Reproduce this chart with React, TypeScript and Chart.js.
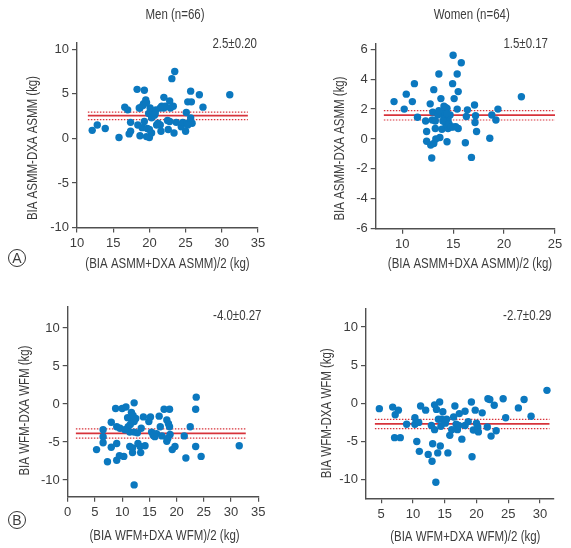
import React, { useEffect, useRef } from 'react';
import { Chart, registerables } from 'chart.js';

Chart.register(...registerables);

// ---------------- data ----------------
const menAsmm: [number, number][] = [
  [12.1, 0.9], [12.8, 1.5], [13.9, 1.1], [15.8, 0.1], [16.6, 3.5], [17.0, 3.2], [17.2, 0.5], [17.4, 0.8],
  [17.4, 1.8], [18.3, 5.5], [18.4, 1.5], [18.7, 0.3], [18.7, 3.4], [19.0, 1.2], [19.1, 3.7], [19.3, 5.4],
  [19.5, 4.3], [19.6, 0.2], [19.2, 3.9], [19.7, 1.1], [19.9, 2.8], [20.0, 0.1], [20.1, 3.4], [20.3, 0.6],
  [20.3, 2.3], [20.5, 3.0], [20.7, 2.6], [20.9, 3.2], [21.0, 1.5], [21.2, 1.7], [21.5, 1.5], [21.6, 0.8],
  [21.7, 3.6], [22.0, 4.6], [22.0, 3.4], [22.2, 3.6], [22.5, 2.0], [22.6, 1.0], [22.8, 4.2], [22.9, 3.4],
  [23.1, 6.7], [23.5, 7.5], [23.3, 3.6], [23.4, 0.6], [23.7, 1.8], [24.4, 1.3], [24.6, 1.8], [25.0, 0.8],
  [25.1, 2.9], [25.2, 1.7], [25.3, 4.1], [25.7, 2.3], [25.7, 5.3], [25.8, 4.1], [25.9, 1.7], [26.9, 4.9],
  [27.4, 3.5], [31.1, 4.9], [19.6, 4.0], [20.0, 1.0], [19.3, 1.9], [20.8, 2.8], [22.8, 1.9], [25.3, 1.5],
  [18.6, 3.4], [21.5, 3.4],
];

const womenAsmm: [number, number][] = [
  [9.2, 2.5], [10.2, 2.0], [10.4, 3.0], [11.0, 2.5], [11.2, 3.7], [11.5, 1.45], [12.3, 1.2], [12.4, 0.5],
  [12.4, -0.15], [12.75, 2.35], [12.8, -0.4], [12.9, -1.27], [13.1, 3.3], [13.0, 1.8], [12.95, 1.27], [13.1, -0.3],
  [13.25, 0.7], [13.25, 1.2], [13.6, 4.35], [13.7, 0.1], [13.8, 2.7], [13.9, 1.75], [13.9, 0.65], [14.1, 1.5],
  [14.1, 2.2], [14.3, 0.95], [14.4, -0.18], [14.4, 2.05], [14.5, 1.5], [14.5, 1.27], [14.5, 0.7], [14.7, 1.6],
  [14.95, 3.7], [15.0, 5.6], [15.1, 2.7], [15.25, 0.83], [15.4, 4.35], [15.4, 2.0], [15.5, 3.17], [15.5, 0.7],
  [15.8, 5.1], [16.2, -0.25], [16.3, 1.5], [16.4, 1.95], [16.8, -1.23], [17.1, 2.27], [17.15, 1.1], [17.2, 1.55],
  [17.3, 0.5], [18.6, 0.05], [18.8, 1.6], [19.2, 1.27], [19.4, 2.0], [21.7, 2.83], [13.5, 1.6], [14.0, 1.2],
  [14.2, 1.8], [14.6, 1.0], [14.8, 0.8], [13.6, 1.9], [14.3, 2.1], [15.0, 0.8], [13.3, 0.0], [14.4, 1.7],
];

const menWfm: [number, number][] = [
  [5.3, -6.0], [6.5, -3.4], [6.5, -4.3], [6.5, -5.1], [7.3, -7.6], [8.0, -2.4], [8.0, -5.7], [8.8, -0.6],
  [9.0, -5.2], [9.0, -7.4], [9.0, -3.0], [9.6, -3.2], [9.5, -6.8], [10.0, -0.6], [10.3, -6.9], [10.7, -0.4],
  [11.0, -1.8], [11.1, -3.0], [11.4, -3.7], [11.4, -5.6], [11.6, -1.9], [11.7, -1.1], [11.9, -5.8], [11.9, -6.4],
  [12.2, -2.3], [12.2, 0.15], [12.2, -10.65], [12.2, -3.7], [12.5, -1.9], [12.9, -5.2], [13.3, -5.6], [13.5, -3.2],
  [13.4, -6.4], [13.9, -1.7], [14.2, -5.5], [14.9, -2.3], [15.2, -1.7], [15.4, -3.7], [15.7, -4.1], [16.3, -3.9],
  [16.8, -1.6], [17.0, -3.0], [17.3, -4.2], [17.7, -0.7], [18.2, -2.1], [18.2, -4.9], [18.5, -2.6], [18.7, -0.7],
  [18.7, -3.0], [18.8, -4.0], [19.2, -6.0], [19.7, -5.6], [21.4, -4.2], [21.7, -7.1], [22.5, -3.0], [23.5, -0.7],
  [23.6, 0.9], [23.5, -5.6], [24.5, -6.9], [31.5, -5.5], [10.5, -3.4], [12.0, -1.5], [12.8, -3.8], [11.5, -2.7],
  [18.4, -4.5], [16.0, -4.3],
];

const womenWfm: [number, number][] = [
  [4.7, -0.7], [6.8, -0.5], [7.2, -1.5], [7.1, -4.5], [7.7, -0.9], [8.0, -4.5], [9.0, -2.75], [10.3, -1.9],
  [10.3, -2.75], [10.6, -5.0], [10.9, -2.5], [11.0, -6.3], [11.2, -0.35], [12.0, -0.9], [12.4, -6.7], [12.9, -2.9],
  [13.1, -5.3], [13.0, -7.6], [13.4, -0.2], [13.4, -3.45], [13.6, -10.35], [13.7, -0.8], [13.9, -6.5], [14.2, 0.17],
  [14.3, -5.6], [14.4, -3.0], [14.5, -2.1], [14.7, -1.1], [15.1, -2.6], [15.3, -2.1], [15.5, -6.5], [15.8, -4.2],
  [16.1, -3.45], [16.4, -1.8], [16.6, -0.35], [16.8, -2.75], [17.0, -3.45], [17.3, -1.35], [17.7, -4.7], [18.2, -1.05],
  [18.2, -2.9], [18.7, -2.4], [19.2, 0.17], [19.3, -7.0], [19.8, -0.9], [19.5, -3.5], [20.0, -2.6], [20.2, -3.1],
  [20.3, -3.75], [20.9, -1.25], [21.7, -3.1], [21.8, 0.6], [22.1, 0.5], [22.3, -4.3], [22.8, -0.25], [23.1, -3.6],
  [24.2, 0.6], [24.6, -1.9], [26.6, -0.6], [27.5, 0.5], [28.6, -1.7], [31.1, 1.7], [17.2, -2.9], [14.0, -2.1],
];

// mean and 95% limits [lower, mean, upper] and x-extent of the lines
const menAsmmBand = [2.1, 2.55, 2.95];
const womenAsmmBand = [1.27, 1.6, 1.9];
const menWfmBand = [-4.5, -3.87, -3.27];
const womenWfmBand = [-3.33, -2.7, -2.1];
const menAsmmBandX = [11.5, 33.6];
const womenAsmmBandX = [8.2, 25.1];
const menWfmBandX = [1.5, 32.7];
const womenWfmBandX = [4.0, 31.5];

// tick labels
const menAsmmXTicks = [10, 15, 20, 25, 30, 35];
const menAsmmYTicks = [-10, -5, 0, 5, 10];
const womenAsmmXTicks = [10, 15, 20, 25];
const womenAsmmYTicks = [-6, -4, -2, 0, 2, 4, 6];
const menWfmXTicks = [0, 5, 10, 15, 20, 25, 30, 35];
const menWfmYTicks = [-10, -5, 0, 5, 10];
const womenWfmXTicks = [5, 10, 15, 20, 25, 30];
const womenWfmYTicks = [-10, -5, 0, 5, 10];

// texts
const menTitle = 'Men (n=66)';
const womenTitle = 'Women (n=64)';
const menAsmmNote = '2.5±0.20';
const womenAsmmNote = '1.5±0.17';
const menWfmNote = '-4.0±0.27';
const womenWfmNote = '-2.7±0.29';
const asmmXTitle = '(BIA ASMM+DXA ASMM)/2 (kg)';
const asmmYTitle = 'BIA ASMM-DXA ASMM (kg)';
const wfmXTitle = '(BIA WFM+DXA WFM)/2 (kg)';
const wfmYTitle = 'BIA WFM-DXA WFM (kg)';

// ---------------- styling ----------------
const FONT = "'Liberation Sans', Arial, sans-serif";
const NARROW = 0.82;
const TEXT = '#3c3c3c';
const AXIS = '#505050';
const BLUE = '#0b78bf';
const RED = '#d7333b';

type TextItem = { text: string; x: number; y: number; align?: CanvasTextAlign; rotate?: boolean; circle?: boolean };

type PanelProps = {
  left: number; top: number; width: number; height: number;
  area: { left: number; right: number; top: number; bottom: number };
  points: [number, number][];
  band: number[]; bandX: number[];
  xRange: number[]; yRange: number[];
  xTicks: number[]; yTicks: number[];
  texts: TextItem[];
};

function Panel(p: PanelProps) {
  const ref = useRef<HTMLCanvasElement | null>(null);
  useEffect(() => {
    if (!ref.current) return;
    const font = { family: FONT, size: 13 };
    const textPlugin = {
      id: 'panelText',
      afterDraw(chart: any) {
        const ctx = chart.ctx as CanvasRenderingContext2D;
        ctx.save();
        ctx.fillStyle = TEXT;
        ctx.strokeStyle = '#333';
        ctx.textBaseline = 'middle';
        for (const t of p.texts) {
          ctx.save();
          ctx.translate(t.x, t.y);
          if (t.rotate) ctx.rotate(-Math.PI / 2);
          ctx.textAlign = t.align || 'center';
          if (t.circle) {
            ctx.beginPath();
            ctx.lineWidth = 1;
            ctx.arc(0, 0, 8.5, 0, Math.PI * 2);
            ctx.stroke();
            ctx.font = `14px ${FONT}`;
            ctx.fillText(t.text, 0, 1);
          } else {
            ctx.scale(NARROW, 1);
            ctx.font = `14px ${FONT}`;
            ctx.fillText(t.text, 0, 0);
          }
          ctx.restore();
        }
        ctx.restore();
      },
    };
    const lineDs = (y: number, dashed: boolean, w: number) => ({
      type: 'line' as const,
      data: [{ x: p.bandX[0], y }, { x: p.bandX[1], y }],
      borderColor: RED,
      borderWidth: w,
      borderDash: dashed ? [1.5, 1.5] : [],
      pointRadius: 0,
      order: 2,
    });
    const axisCommon = {
      type: 'linear' as const,
      grid: { display: true, drawOnChartArea: false, drawTicks: true, tickLength: 5, color: AXIS, lineWidth: 1.2 },
      border: { display: true, color: AXIS, width: 1.4 },
      ticks: { font, color: TEXT, padding: 3, autoSkip: false, maxRotation: 0 },
    };
    const chart = new Chart(ref.current, {
      type: 'scatter',
      data: {
        datasets: [
          {
            type: 'scatter',
            data: p.points.map(([x, y]) => ({ x, y })),
            backgroundColor: BLUE,
            borderWidth: 0,
            pointRadius: 3.7,
            order: 1,
          } as any,
          lineDs(p.band[0], true, 1.2),
          lineDs(p.band[1], false, 1.8),
          lineDs(p.band[2], true, 1.2),
        ],
      },
      options: {
        animation: false,
        responsive: false,
        maintainAspectRatio: false,
        layout: { padding: { left: 0, top: p.area.top, right: p.width - p.area.right, bottom: 0 } },
        plugins: { legend: { display: false }, tooltip: { enabled: false }, title: { display: false } },
        scales: {
          x: {
            ...axisCommon,
            position: 'bottom',
            min: p.xRange[0],
            max: p.xRange[1],
            afterFit: (s: any) => { s.height = p.height - p.area.bottom; },
            afterBuildTicks: (s: any) => { s.ticks = p.xTicks.map((v) => ({ value: v })); },
          },
          y: {
            ...axisCommon,
            position: 'left',
            min: p.yRange[0],
            max: p.yRange[1],
            afterFit: (s: any) => { s.width = p.area.left; },
            afterBuildTicks: (s: any) => { s.ticks = p.yTicks.map((v) => ({ value: v })); },
          },
        } as any,
      },
      plugins: [textPlugin],
    });
    return () => chart.destroy();
  }, []);
  return (
    <canvas
      ref={ref}
      width={p.width}
      height={p.height}
      style={{ position: 'absolute', left: p.left, top: p.top, width: p.width, height: p.height }}
    />
  );
}

export default function App() {
  return (
    <div style={{ position: 'absolute', left: 0, top: 0, width: 571, height: 548, background: '#fff', overflow: 'hidden' }}>
      <Panel
        left={0} top={0} width={285} height={280}
        area={{ left: 77, right: 258, top: 43, bottom: 227.5 }}
        points={menAsmm} band={menAsmmBand} bandX={menAsmmBandX}
        xRange={[10, 35]} yRange={[-10, 10.7]} xTicks={menAsmmXTicks} yTicks={menAsmmYTicks}
        texts={[
          { text: menTitle, x: 175, y: 15 },
          { text: menAsmmNote, x: 257, y: 44, align: 'right' },
          { text: asmmYTitle, x: 33, y: 148, rotate: true },
          { text: asmmXTitle, x: 167.5, y: 264 },
          { text: 'A', x: 17, y: 258, circle: true },
        ]}
      />
      <Panel
        left={285} top={0} width={286} height={280}
        area={{ left: 90.7, right: 270, top: 43.3, bottom: 228.7 }}
        points={womenAsmm} band={womenAsmmBand} bandX={womenAsmmBandX}
        xRange={[7.4, 25]} yRange={[-6, 6.4]} xTicks={womenAsmmXTicks} yTicks={womenAsmmYTicks}
        texts={[
          { text: womenTitle, x: 186.7, y: 15 },
          { text: womenAsmmNote, x: 263, y: 44, align: 'right' },
          { text: asmmYTitle, x: 55, y: 148.5, rotate: true },
          { text: asmmXTitle, x: 185, y: 264 },
        ]}
      />
      <Panel
        left={0} top={280} width={285} height={268}
        area={{ left: 67.7, right: 258.3, top: 26.7, bottom: 216.7 }}
        points={menWfm} band={menWfmBand} bandX={menWfmBandX}
        xRange={[0, 35]} yRange={[-12.2, 12.8]} xTicks={menWfmXTicks} yTicks={menWfmYTicks}
        texts={[
          { text: menWfmNote, x: 261.5, y: 35.7, align: 'right' },
          { text: wfmYTitle, x: 25, y: 130.5, rotate: true },
          { text: wfmXTitle, x: 164.5, y: 256 },
          { text: 'B', x: 17, y: 240, circle: true },
        ]}
      />
      <Panel
        left={285} top={280} width={286} height={268}
        area={{ left: 81, right: 268.3, top: 28.3, bottom: 218.3 }}
        points={womenWfm} band={womenWfmBand} bandX={womenWfmBandX}
        xRange={[2.6, 32.1]} yRange={[-12.45, 12.45]} xTicks={womenWfmXTicks} yTicks={womenWfmYTicks}
        texts={[
          { text: womenWfmNote, x: 266.5, y: 36, align: 'right' },
          { text: wfmYTitle, x: 41.7, y: 133.3, rotate: true },
          { text: wfmXTitle, x: 180.3, y: 256.7 },
        ]}
      />
    </div>
  );
}
